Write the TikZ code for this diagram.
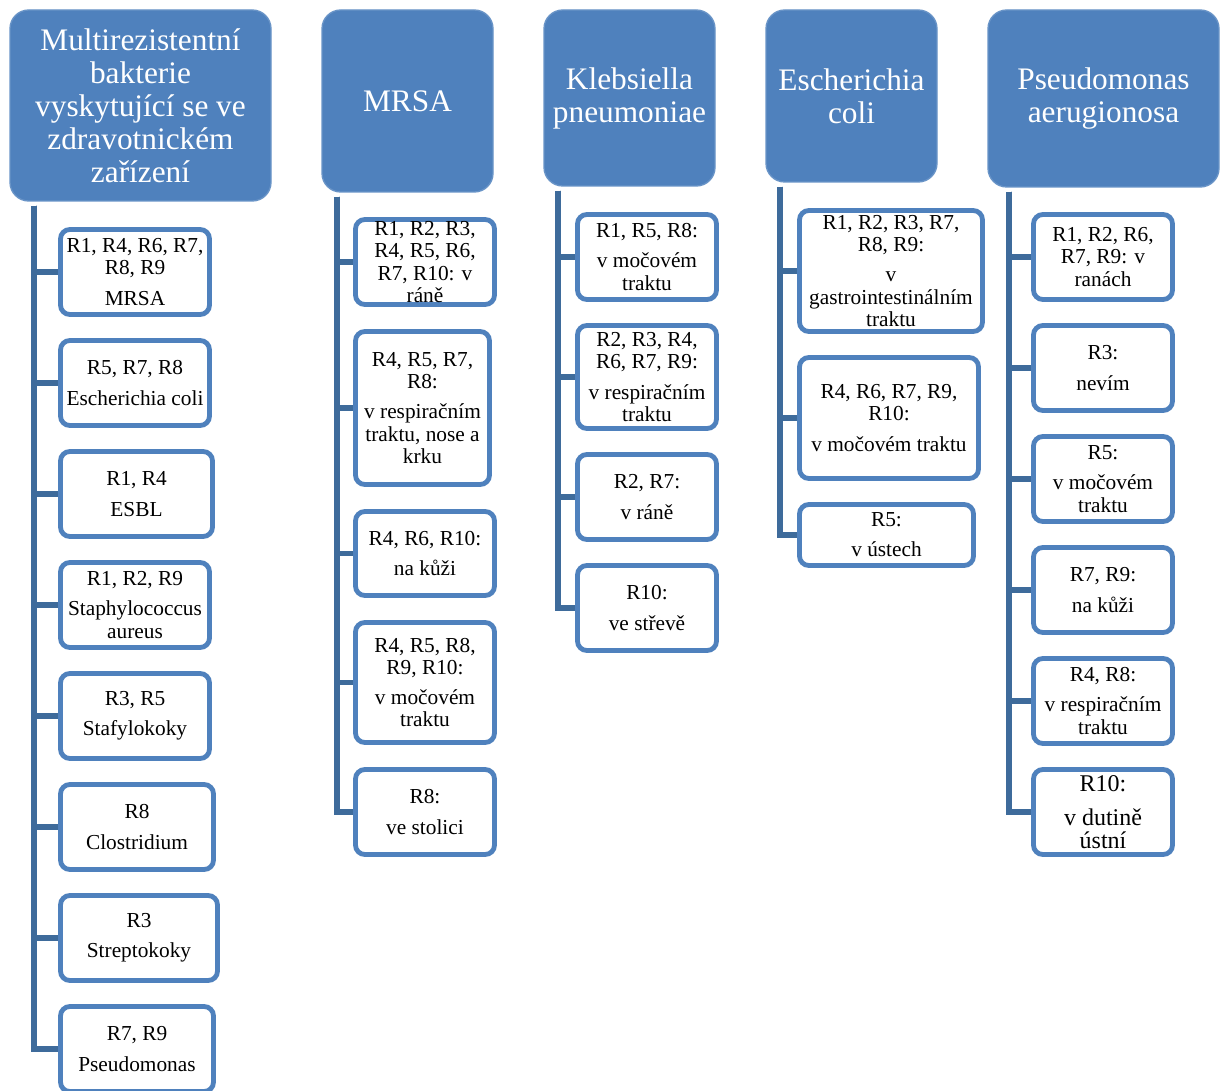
\documentclass[tikz,border=0pt]{standalone}
\usepackage{fontspec}
\setmainfont{Liberation Serif}
\definecolor{acc}{HTML}{4F81BD}
\definecolor{conncol}{HTML}{3E6B9B}
\newcommand\mkhead[7][]{\node[head,#1,minimum width={(#5-#3-2)*0.75pt},minimum height={(#6-#4-2)*0.75pt}] (#2) at ({(#3+#5)/2},{(#4+#6)/2}) {#7};}
\newcommand\mkleaf[7][]{\node[leaf,#1,minimum width={(#5-#3-5)*0.75pt},minimum height={(#6-#4-5)*0.75pt}] (#2) at ({(#3+#5)/2},{(#4+#6)/2}) {#7};}
\begin{document}
\begin{tikzpicture}[x=0.75pt,y=-0.75pt,
  head/.style={fill=acc,draw=acc!85!white,line width=1pt,rounded corners=14pt,text=white,
    font=\fontsize{23.5}{24.75}\selectfont,align=center,inner sep=0pt},
  leaf/.style={fill=white,draw=acc,line width=3.6pt,rounded corners=7pt,
    font=\fontsize{16}{16.6}\selectfont,align=center,inner sep=0pt},
  conn/.style={draw=conncol,line width=4.4pt}]
\useasboundingbox (0,0) rectangle (1224,1091);
% headers
\mkhead{h1}{9}{9}{272}{202}{Multirezistentní\\bakterie\\vyskytující se ve\\zdravotnickém\\zařízení}
\mkhead{h2}{321}{9}{494}{193}{MRSA}
\mkhead{h3}{543}{9}{716}{187}{Klebsiella\\pneumoniae}
\mkhead{h4}{765}{9}{938}{183}{Escherichia\\coli}
\mkhead{h5}{987}{9}{1220}{188}{Pseudomonas\\aerugionosa}
% column 1
\mkleaf{a1}{58}{227}{212}{317}{R1, R4, R6, R7,\\R8, R9\\[6pt]MRSA}
\mkleaf{a2}{58}{338}{212}{428}{R5, R7, R8\\[6pt]Escherichia coli}
\mkleaf{a3}{58}{449}{215}{539}{R1, R4\\[6pt]ESBL}
\mkleaf{a4}{58}{560}{212}{650}{R1, R2, R9\\[6pt]Staphylococcus\\aureus}
\mkleaf{a5}{58}{671}{212}{761}{R3, R5\\[6pt]Stafylokoky}
\mkleaf{a6}{58}{782}{216}{872}{R8\\[6pt]Clostridium}
\mkleaf{a7}{58}{893}{220}{983}{R3\\[6pt]Streptokoky}
\mkleaf{a8}{58}{1004}{216}{1094}{R7, R9\\[6pt]Pseudomonas}
% column 2
\mkleaf{b1}{353}{217}{497}{307}{R1, R2, R3,\\R4, R5, R6,\\R7, R10: v\\ráně}
\mkleaf{b2}{353}{329}{492}{487}{R4, R5, R7,\\R8:\\[6pt]v respiračním\\traktu, nose a\\krku}
\mkleaf{b3}{353}{509}{497}{598}{R4, R6, R10:\\[6pt]na kůži}
\mkleaf{b4}{353}{620}{497}{745}{R4, R5, R8,\\R9, R10:\\[6pt]v močovém\\traktu}
\mkleaf{b5}{353}{767}{497}{857}{R8:\\[6pt]ve stolici}
% column 3
\mkleaf{c1}{575}{212}{719}{302}{R1, R5, R8:\\[6pt]v močovém\\traktu}
\mkleaf{c2}{575}{323}{719}{431}{R2, R3, R4,\\R6, R7, R9:\\[6pt]v respiračním\\traktu}
\mkleaf{c3}{575}{452}{719}{542}{R2, R7:\\[6pt]v ráně}
\mkleaf{c4}{575}{563}{719}{653}{R10:\\[6pt]ve střevě}
% column 4
\mkleaf{d1}{797}{208}{985}{334}{R1, R2, R3, R7,\\R8, R9:\\[6pt]v\\gastrointestinálním\\traktu}
\mkleaf{d2}{797}{355}{981}{481}{R4, R6, R7, R9,\\R10:\\[6pt]v močovém traktu}
\mkleaf{d3}{797}{502}{976}{568}{R5:\\[6pt]v ústech}
% column 5
\mkleaf{e1}{1031}{212}{1175}{302}{R1, R2, R6,\\R7, R9: v\\ranách}
\mkleaf{e2}{1031}{323}{1175}{413}{R3:\\[6pt]nevím}
\mkleaf{e3}{1031}{434}{1175}{524}{R5:\\[6pt]v močovém\\traktu}
\mkleaf{e4}{1031}{545}{1175}{635}{R7, R9:\\[6pt]na kůži}
\mkleaf{e5}{1031}{656}{1175}{746}{R4, R8:\\[6pt]v respiračním\\traktu}
\mkleaf[font=\fontsize{18}{17.3}\selectfont]{e6}{1031}{767}{1175}{857}{R10:\\[8pt]v dutině\\ústní}
% connectors
\coordinate (x1) at (34,0);
\coordinate (x2) at (337,0);
\coordinate (x3) at (558,0);
\coordinate (x4) at (780,0);
\coordinate (x5) at (1009,0);
\foreach \c in {a1,a2,a3,a4,a5,a6,a7,a8} \draw[conn] ([yshift=-3pt]h1.south -| x1) |- (\c.west);
\foreach \c in {b1,b2,b3,b4,b5} \draw[conn] ([yshift=-3pt]h2.south -| x2) |- (\c.west);
\foreach \c in {c1,c2,c3,c4} \draw[conn] ([yshift=-3pt]h3.south -| x3) |- (\c.west);
\foreach \c in {d1,d2,d3} \draw[conn] ([yshift=-3pt]h4.south -| x4) |- (\c.west);
\foreach \c in {e1,e2,e3,e4,e5,e6} \draw[conn] ([yshift=-3pt]h5.south -| x5) |- (\c.west);
\end{tikzpicture}
\end{document}
